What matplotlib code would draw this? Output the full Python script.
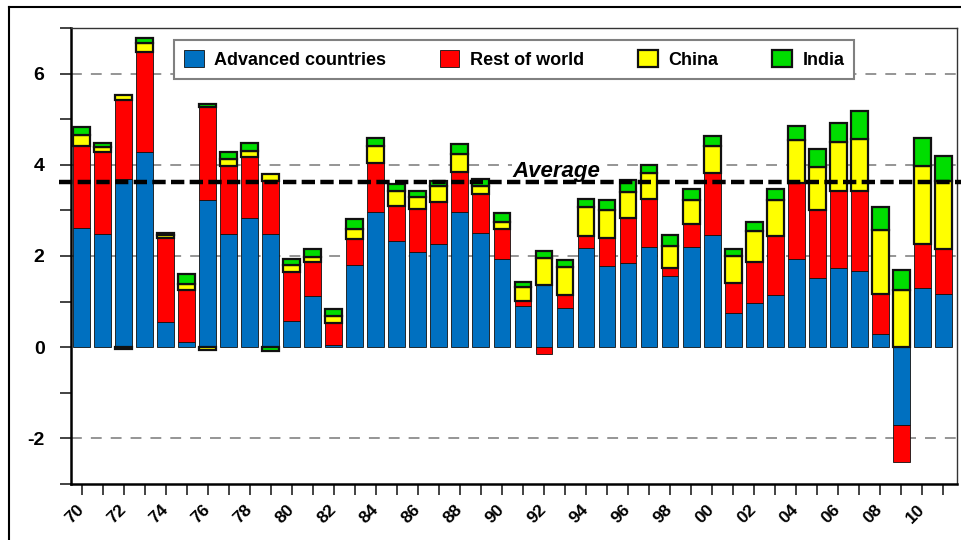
import matplotlib
matplotlib.use('Agg')
import matplotlib.pyplot as plt
import matplotlib.transforms as mtransforms
from matplotlib.lines import Line2D
import numpy as np

# contributions to world growth, percentage points
years = list(range(1970, 2012))
advanced = [2.61, 2.49, 3.69, 4.28, 0.55, 0.11, 3.22, 2.49, 2.83, 2.49,
            0.58, 1.13, 0.05, 1.81, 2.97, 2.32, 2.08, 2.26, 2.97, 2.51,
            1.93, 0.91, 1.37, 0.85, 2.17, 1.79, 1.84, 2.19, 1.57, 2.19,
            2.46, 0.75, 0.97, 1.14, 1.93, 1.52, 1.73, 1.68, 0.29, -1.70,
            1.29, 1.17]
rest = [1.80, 1.79, 1.74, 2.19, 1.85, 1.14, 2.04, 1.48, 1.34, 1.15,
        1.08, 0.74, 0.48, 0.57, 1.07, 0.78, 0.96, 0.92, 0.87, 0.84,
        0.67, 0.10, -0.15, 0.29, 0.26, 0.61, 0.99, 1.07, 0.16, 0.52,
        1.37, 0.66, 0.90, 1.29, 1.68, 1.49, 1.69, 1.74, 0.88, -0.81,
        0.98, 0.99]
china = [0.25, 0.11, 0.10, 0.21, 0.05, 0.13, -0.06, 0.16, 0.13, 0.15,
         0.15, 0.11, 0.16, 0.22, 0.38, 0.32, 0.25, 0.35, 0.39, 0.18,
         0.15, 0.30, 0.58, 0.61, 0.64, 0.60, 0.58, 0.55, 0.49, 0.51,
         0.59, 0.58, 0.68, 0.79, 0.93, 0.94, 1.08, 1.15, 1.40, 1.26,
         1.70, 1.48]
india = [0.16, 0.09, -0.05, 0.10, 0.06, 0.22, 0.07, 0.15, 0.17, -0.09,
         0.12, 0.17, 0.15, 0.21, 0.17, 0.15, 0.13, 0.11, 0.23, 0.16,
         0.19, 0.13, 0.15, 0.17, 0.19, 0.23, 0.25, 0.18, 0.24, 0.26,
         0.22, 0.17, 0.20, 0.26, 0.32, 0.39, 0.42, 0.62, 0.50, 0.44,
         0.62, 0.55]
average = 3.62

series = [advanced, rest, china, india]
names = ['Advanced countries', 'Rest of world', 'China', 'India']
colors = ['#0070C0', '#FF0000', '#FFFF00', '#00DD00']
edge_lw = [0.6, 0.6, 1.6, 1.6]

plt.rcParams['font.family'] = ['Liberation Sans', 'DejaVu Sans']

fig = plt.figure(figsize=(9.62, 5.4), dpi=100)
ax = fig.add_axes([71/962, 56/540, 886/962, 456/540])

# --- stacked bars, negatives stacked down from zero ---
pos_base = np.zeros(len(years))
neg_base = np.zeros(len(years))
for vals, name, col, lw in zip(series, names, colors, edge_lw):
    vals = np.array(vals)
    bottom = np.where(vals >= 0, pos_base, neg_base)
    ax.bar(years, vals, bottom=bottom, width=0.8, color=col,
           edgecolor='#111111', linewidth=lw, label=name, zorder=3)
    pos_base += np.clip(vals, 0, None)
    neg_base += np.clip(vals, None, 0)

# --- dashed grid lines ---
for yv in [-2, 2, 4, 6]:
    ax.axhline(yv, color='#8c8c8c', lw=1.3, dashes=(6, 5), zorder=1)

# --- average line and label ---
trans = mtransforms.blended_transform_factory(ax.transAxes, ax.transData)
ax.plot([-0.013, 1.006], [average, average], transform=trans, color='black',
        lw=3.2, dashes=(3, 1.2), clip_on=False, zorder=6)
ax.text(1990.5, 3.74, 'Average', fontsize=16, fontweight='bold', style='italic',
        ha='left', va='baseline', zorder=5,
        bbox=dict(facecolor='white', edgecolor='none', pad=0.5))

ax.set_xlim(1969.5, 2011.65)
ax.set_ylim(-3, 7)

ax.set_yticks(range(-3, 8))
ax.set_yticklabels([str(v) if v % 2 == 0 else '' for v in range(-3, 8)],
                   fontsize=14, fontweight='bold')
ax.set_xticks(years)
ax.set_xticklabels(['%02d' % (y % 100) if y % 2 == 0 else '' for y in years],
                   fontsize=12.5, fontweight='bold', rotation=45, ha='right',
                   va='center', rotation_mode='anchor')
ax.tick_params(axis='y', direction='out', length=8, width=1.2, pad=11, colors='#222222')
ax.tick_params(axis='x', direction='out', length=8, width=1.2, pad=9, colors='#222222')
for lab in ax.get_xticklabels() + ax.get_yticklabels():
    lab.set_color('black')

for side in ['left', 'bottom']:
    ax.spines[side].set_linewidth(1.8)
    ax.spines[side].set_color('black')
for side in ['top', 'right']:
    ax.spines[side].set_linewidth(1.0)
    ax.spines[side].set_color('#333333')

leg = ax.legend(loc='upper center', bbox_to_anchor=(0.5, 0.974), ncol=4,
                prop={'weight': 'bold', 'size': 13}, borderaxespad=0,
                frameon=True, fancybox=False, framealpha=1,
                edgecolor='#808080', handlelength=1.1, handleheight=1.1,
                handletextpad=0.6, columnspacing=2.95, borderpad=0.55)
leg.get_frame().set_linewidth(1.5)
leg.set_zorder(7)

# --- outer frame of the original slide ---
fig.add_artist(Line2D([8.5/962, 8.5/962], [0, 1 - 6.5/540], transform=fig.transFigure,
                      color='black', lw=1.5))
fig.add_artist(Line2D([8.5/962, 1], [1 - 6.5/540, 1 - 6.5/540], transform=fig.transFigure,
                      color='black', lw=1.5))

plt.savefig('out.png', dpi=100)
